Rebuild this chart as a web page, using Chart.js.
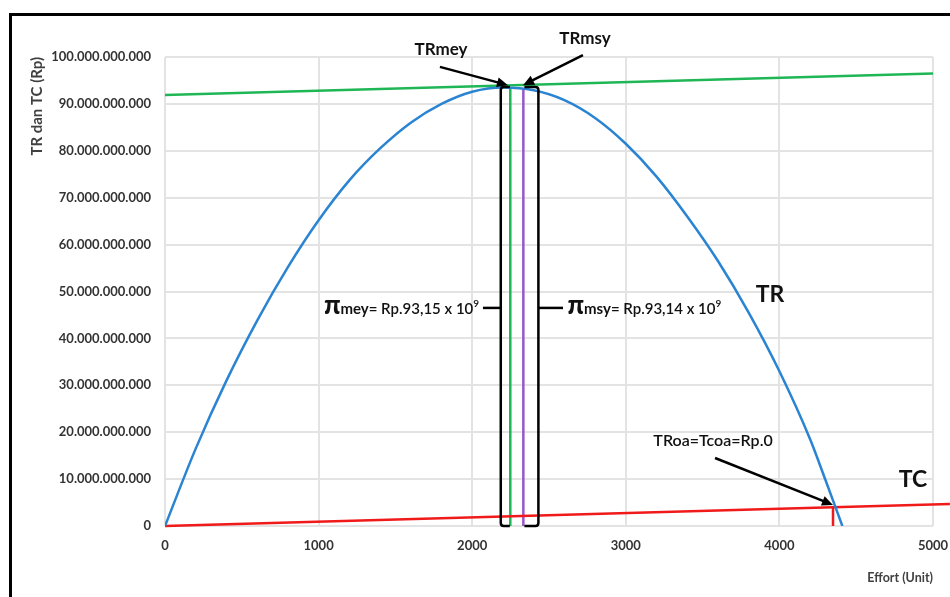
<!DOCTYPE html>
<html>
<head>
<meta charset="utf-8">
<script src="https://cdn.jsdelivr.net/npm/chart.js@4.4.1/dist/chart.umd.min.js"></script>
<style>
  html, body { margin: 0; padding: 0; background: #fff; }
  #wrap { position: relative; width: 950px; height: 597px; overflow: hidden; }
</style>
</head>
<body>
<div id="wrap"><canvas id="grafik" width="950" height="597"></canvas></div>
<script>
// data (effort in units, money in billions of Rp)
const trEffort = [0, 200, 400, 600, 800, 1000, 1200, 1400, 1600, 1800, 2000, 2200, 2400, 2600, 2800, 3000, 3200, 3400, 3600, 3800, 4000, 4200, 4300, 4410];
const trValue  = [0, 16.5, 31, 43.8, 55.2, 65.2, 73.7, 80.5, 86, 90, 92.6, 93.5, 92.9, 90.8, 87, 81.5, 74.5, 66, 56.5, 45.5, 33, 18.5, 9.8, 0];

const tcEffort = [0, 4349, 5110];
const tcValue  = [0, 4.0, 4.7];

const greenEffort = [0, 5000, 5110];
const greenValue  = [91.9, 96.5, 96.6];

const meyEffort = [2248, 2248];
const meyValue  = [0, 93.6];
const msyEffort = [2333, 2333];
const msyValue  = [0, 93.4];
const oaEffort  = [4349, 4349];
const oaValue   = [0, 4.0];

const xTickLabels = ['0', '1000', '2000', '3000', '4000', '5000'];
const yTickLabels = ['0', '10.000.000.000', '20.000.000.000', '30.000.000.000', '40.000.000.000',
  '50.000.000.000', '60.000.000.000', '70.000.000.000', '80.000.000.000', '90.000.000.000', '100.000.000.000'];

const FONT = 'Lato, "Open Sans", sans-serif';

function body(xs, ys) {
  return xs.map((x, i) => ({ x: x, y: ys[i] * 1e9 }));
}

function sipka(ctx, x1, y1, x2, y2) {
  const a = Math.atan2(y2 - y1, x2 - x1);
  const hl = 11, hw = 5;
  ctx.beginPath();
  ctx.moveTo(x1, y1);
  ctx.lineTo(x2 - Math.cos(a) * hl * 0.8, y2 - Math.sin(a) * hl * 0.8);
  ctx.stroke();
  ctx.beginPath();
  ctx.moveTo(x2, y2);
  ctx.lineTo(x2 - Math.cos(a) * hl - Math.sin(a) * hw, y2 - Math.sin(a) * hl + Math.cos(a) * hw);
  ctx.lineTo(x2 - Math.cos(a) * hl + Math.sin(a) * hw, y2 - Math.sin(a) * hl - Math.cos(a) * hw);
  ctx.closePath();
  ctx.fill();
}

// text made of pieces with different fonts, baseline y
function textParts(ctx, x, y, parts, align) {
  let w = 0;
  parts.forEach(p => { ctx.font = p.font; w += ctx.measureText(p.t).width; });
  let cx = align === 'right' ? x - w : x;
  ctx.textAlign = 'left';
  ctx.textBaseline = 'alphabetic';
  parts.forEach(p => {
    ctx.font = p.font;
    ctx.fillText(p.t, cx, y + (p.dy || 0));
    cx += ctx.measureText(p.t).width;
  });
}

function piLabel(sub, val) {
  return [
    { t: 'π', font: '900 26px ' + FONT },
    { t: sub + '= ', font: 'bold 15px ' + FONT },
    { t: 'Rp.' + val + ' x 10', font: '600 15px ' + FONT },
    { t: '9', font: '600 10px ' + FONT, dy: -7 }
  ];
}

const popisky = {
  id: 'popisky',
  beforeDraw(chart) {
    const ctx = chart.ctx;
    ctx.save();
    ctx.fillStyle = '#fff';
    ctx.fillRect(0, 0, chart.width, chart.height);
    ctx.strokeStyle = '#000';
    ctx.lineWidth = 3;
    ctx.strokeRect(10.5, 14.5, 1000, 1000);
    ctx.restore();
  },
  afterDatasetsDraw(chart) {
    const ctx = chart.ctx;
    const px = e => chart.scales.x.getPixelForValue(e);
    const py = v => chart.scales.y.getPixelForValue(v * 1e9);
    ctx.save();
    ctx.strokeStyle = '#000';
    ctx.fillStyle = '#000';
    ctx.lineWidth = 2.5;
    ctx.lineJoin = 'round';

    // braces
    const yt = py(93.6), yb = py(0), ym = py(46.5);
    let x0 = px(2186), xh = px(2245);
    ctx.beginPath();
    ctx.moveTo(xh, yt);
    ctx.lineTo(x0 + 3, yt);
    ctx.quadraticCurveTo(x0, yt, x0, yt + 3);
    ctx.lineTo(x0, yb - 3);
    ctx.quadraticCurveTo(x0, yb, x0 + 3, yb);
    ctx.lineTo(xh, yb);
    ctx.stroke();
    ctx.beginPath();
    ctx.moveTo(px(2070), ym);
    ctx.lineTo(x0, ym);
    ctx.stroke();

    x0 = px(2431); xh = px(2340);
    ctx.beginPath();
    ctx.moveTo(xh, yt);
    ctx.lineTo(x0 - 3, yt);
    ctx.quadraticCurveTo(x0, yt, x0, yt + 3);
    ctx.lineTo(x0, yb - 3);
    ctx.quadraticCurveTo(x0, yb, x0 - 3, yb);
    ctx.lineTo(xh, yb);
    ctx.stroke();
    ctx.beginPath();
    ctx.moveTo(x0, ym);
    ctx.lineTo(px(2591), ym);
    ctx.stroke();

    // arrows
    sipka(ctx, px(1790), py(97.9), px(2233), py(94.0));
    sipka(ctx, px(2721), py(100.4), px(2331), py(94.0));
    sipka(ctx, px(3581), py(14.5), px(4349), py(4.5));

    // labels
    ctx.fillStyle = '#111';
    ctx.textAlign = 'center';
    ctx.textBaseline = 'middle';
    ctx.font = 'bold 17px ' + FONT;
    ctx.fillText('TRmey', px(1797), py(101.7));
    ctx.fillText('TRmsy', px(2734), py(104));
    ctx.font = '600 16px ' + FONT;
    ctx.fillText('TRoa=Tcoa=Rp.0', px(3568), py(18.1));
    ctx.font = 'bold 23px ' + FONT;
    ctx.fillText('TR', px(3939), py(49.3));
    ctx.fillText('TC', px(4870), py(9.8));

    textParts(ctx, px(2045), ym + 6, piLabel('mey', '93,15'), 'right');
    textParts(ctx, px(2620), ym + 6, piLabel('msy', '93,14'), 'left');
    ctx.restore();
  }
};

new Chart(document.getElementById('grafik').getContext('2d'), {
  type: 'line',
  data: {
    datasets: [
      { label: 'TR', data: body(trEffort, trValue), borderColor: '#2a84d2', borderWidth: 2.5,
        cubicInterpolationMode: 'monotone', pointRadius: 0 },
      { label: 'MEY', data: body(greenEffort, greenValue), borderColor: '#1fb655', borderWidth: 2.5,
        pointRadius: 0, clip: false },
      { label: 'TC', data: body(tcEffort, tcValue), borderColor: '#f01a1a', borderWidth: 2.5,
        pointRadius: 0, clip: false },
      { label: 'Emey', data: body(meyEffort, meyValue), borderColor: '#1fb655', borderWidth: 2.5, pointRadius: 0 },
      { label: 'Emsy', data: body(msyEffort, msyValue), borderColor: '#9a55c9', borderWidth: 2.5, pointRadius: 0 },
      { label: 'Eoa', data: body(oaEffort, oaValue), borderColor: '#f01a1a', borderWidth: 2.5, pointRadius: 0 }
    ]
  },
  options: {
    responsive: false,
    animation: false,
    devicePixelRatio: 1,
    layout: { padding: { left: 26, top: 57, right: 17, bottom: 0 } },
    plugins: { legend: { display: false }, tooltip: { enabled: false } },
    scales: {
      x: {
        type: 'linear', min: 0, max: 5000,
        afterFit: s => { s.height = 71; s.paddingLeft = 0; s.paddingRight = 0; },
        afterBuildTicks: s => { s.ticks = xTickLabels.map((t, i) => ({ value: i * 1000 })); },
        ticks: { padding: 12, color: '#333', font: { family: FONT, size: 13, weight: 'bold' },
          callback: (v, i) => xTickLabels[i] },
        grid: { color: '#e3e3e3', lineWidth: 2, drawTicks: false },
        border: { display: false },
        title: { display: true, text: 'Effort (Unit)', align: 'end', color: '#404040',
          font: { family: FONT, size: 12.5, weight: 'bold' }, padding: { top: 0, bottom: 12 } }
      },
      y: {
        min: 0, max: 100e9,
        afterFit: s => { s.width = 139; s.paddingTop = 0; s.paddingBottom = 0; },
        afterBuildTicks: s => { s.ticks = yTickLabels.map((t, i) => ({ value: i * 10e9 })); },
        ticks: { padding: 14, color: '#333', font: { family: FONT, size: 13, weight: 'bold' },
          callback: (v, i) => yTickLabels[i] },
        grid: { color: '#e3e3e3', lineWidth: 2, drawTicks: false },
        border: { display: false },
        title: { display: true, text: 'TR dan TC (Rp)', align: 'end', color: '#404040',
          font: { family: FONT, size: 15, weight: 'bold' }, padding: { top: 2, bottom: 4 } }
      }
    }
  },
  plugins: [popisky]
});
</script>
</body>
</html>
